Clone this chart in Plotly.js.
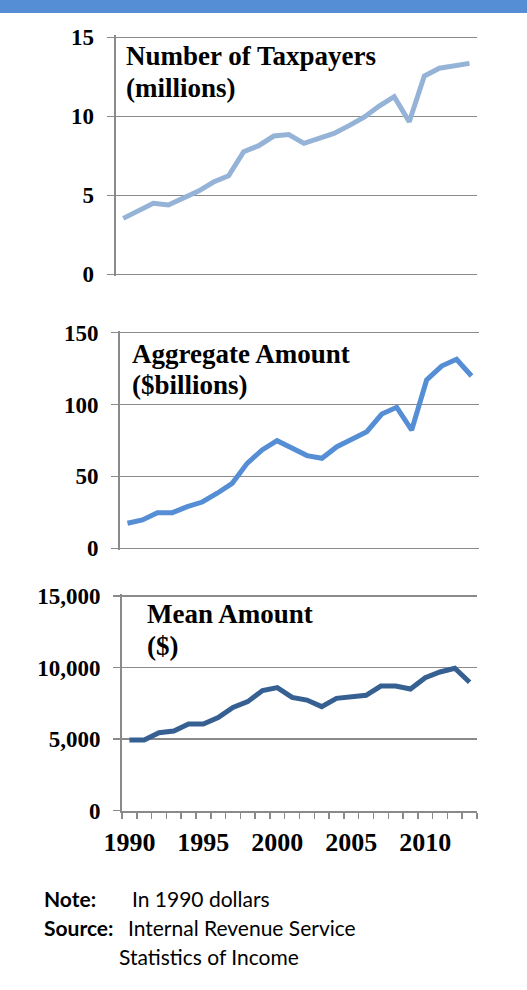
<!DOCTYPE html>
<html><head><meta charset="utf-8">
<script src="https://cdn.plot.ly/plotly-3.0.1.min.js"></script>
<style>html,body{margin:0;padding:0;background:#fff}#chart{width:527px;height:990px}</style>
</head><body><div id="chart"></div>
<script>
const years = [1990,1991,1992,1993,1994,1995,1996,1997,1998,1999,2000,2001,2002,2003,2004,2005,2006,2007,2008,2009,2010,2011,2012,2013];
const taxpayers = [3.54,4.03,4.49,4.39,4.81,5.27,5.84,6.24,7.76,8.14,8.75,8.84,8.29,8.61,8.92,9.41,9.94,10.65,11.24,9.66,12.55,13.04,13.2,13.35];
const aggregate = [17.4,19.7,24.8,24.8,29.0,32.2,38.3,45.2,59.1,68.4,74.9,69.8,64.5,62.6,70.7,75.8,81.1,93.4,98.1,82.3,117.1,126.8,131.5,119.9];
const meanAmt = [4940,4940,5450,5570,6060,6060,6500,7220,7620,8390,8600,7920,7730,7270,7850,7970,8060,8710,8710,8500,9290,9690,9950,8970];
const xTickVals = [1990,1995,2000,2005,2010];
const xTickText = ['1990','1995','2000','2005','2010'];
const panelTitles = [['Number of Taxpayers','(millions)'],['Aggregate Amount','($billions)'],['Mean Amount','($)']];
const noteLines = [['Note:','In 1990 dollars'],['Source:','Internal Revenue Service'],['','Statistics of Income']];

const W = 527, H = 990;
const px = v => v / W;
const py = v => 1 - v / H;
const grid = '#8a8a8a';
const serif = 'Liberation Serif';
const tickFont = {family: serif, size: 23, color: '#000', weight: 'bold'};

// top/bottom: pixel rows of the max and 0 gridlines; extTop/extBot: extra pixels so edge gridlines are drawn
function yax(maxV, dtick, top, bot, extTop, extBot, fmt) {
  const pxPerUnit = (bot - top) / maxV;
  return {domain: [py(bot + extBot), py(top - extTop)],
    range: [-extBot / pxPerUnit, maxV + extTop / pxPerUnit], dtick: dtick, tick0: 0,
    showgrid: true, gridcolor: grid, gridwidth: 1.5, zeroline: false,
    showline: true, linecolor: grid, linewidth: 2,
    ticks: 'outside', ticklen: 7, tickcolor: grid, tickwidth: 1.5,
    tickfont: tickFont, tickformat: fmt || '', ticklabelstandoff: 8, fixedrange: true};
}
function xax(dom, anchor) {
  return {domain: [px(dom[0]), px(dom[1])], range: [1989.5, 2013.5], anchor: anchor,
    showgrid: false, zeroline: false, showline: false, showticklabels: false, ticks: ''};
}

const traces = [
  {x: years, y: taxpayers, xaxis: 'x', yaxis: 'y', mode: 'lines', line: {color: '#95B3D7', width: 5}},
  {x: years, y: aggregate, xaxis: 'x2', yaxis: 'y2', mode: 'lines', line: {color: '#558ED5', width: 5}},
  {x: years, y: meanAmt, xaxis: 'x3', yaxis: 'y3', mode: 'lines', line: {color: '#376092', width: 5}}
];

const x3 = xax([122, 477], 'y3');
Object.assign(x3, {showline: true, linecolor: grid, linewidth: 2, showticklabels: true,
  tickmode: 'array', tickvals: xTickVals, ticktext: xTickText, ticks: '',
  tickfont: {family: serif, size: 26, color: '#000', weight: 'bold'}, ticklabelstandoff: 7,
  minor: {tickmode: 'linear', tick0: 1989.5, dtick: 1, ticks: 'outside', ticklen: 6, tickcolor: grid, tickwidth: 1.5, showgrid: false}});

const ann = [];
const titlePos = [[124, 56, 88], [130, 354, 385], [145, 614, 646]];
panelTitles.forEach((t, i) => {
  t.forEach((line, j) => {
    ann.push({xref: 'paper', yref: 'paper', x: px(titlePos[i][0]), y: py(titlePos[i][1 + j]),
      xanchor: 'left', yanchor: 'middle', showarrow: false, text: line,
      font: {family: serif, size: 27, color: '#000', weight: 'bold'}});
  });
});
const noteY = [898, 927, 956];
const noteX = [130, 126, 117];
noteLines.forEach((l, i) => {
  if (l[0]) ann.push({xref: 'paper', yref: 'paper', x: px(42), y: py(noteY[i]), xanchor: 'left', yanchor: 'middle',
    showarrow: false, text: '<b>' + l[0] + '</b>', font: {family: 'Lato', size: 21, color: '#000'}});
  ann.push({xref: 'paper', yref: 'paper', x: px(noteX[i]), y: py(noteY[i]), xanchor: 'left', yanchor: 'middle',
    showarrow: false, text: l[1], font: {family: 'Lato', size: 21, color: '#000'}});
});

const layout = {
  width: W, height: H, margin: {l: 0, r: 0, t: 0, b: 0}, showlegend: false,
  paper_bgcolor: '#fff', plot_bgcolor: 'rgba(0,0,0,0)',
  xaxis: xax([115.7, 477], 'y'),
  xaxis2: xax([120, 479], 'y2'),
  xaxis3: x3,
  yaxis: Object.assign(yax(15, 5, 37.3, 274.3, 2, 2), {anchor: 'x'}),
  yaxis2: Object.assign(yax(150, 50, 332.7, 548.3, 2, 2), {anchor: 'x2'}),
  yaxis3: Object.assign(yax(15000, 5000, 596, 810.7, 2, 0, ',d'), {anchor: 'x3'}),
  shapes: [{type: 'rect', xref: 'paper', yref: 'paper', x0: 0, x1: 1, y0: py(13), y1: 1, fillcolor: '#558ED5', line: {width: 0}, layer: 'above'}],
  annotations: ann
};
Plotly.newPlot('chart', traces, layout, {staticPlot: true, displayModeBar: false});
</script></body></html>
